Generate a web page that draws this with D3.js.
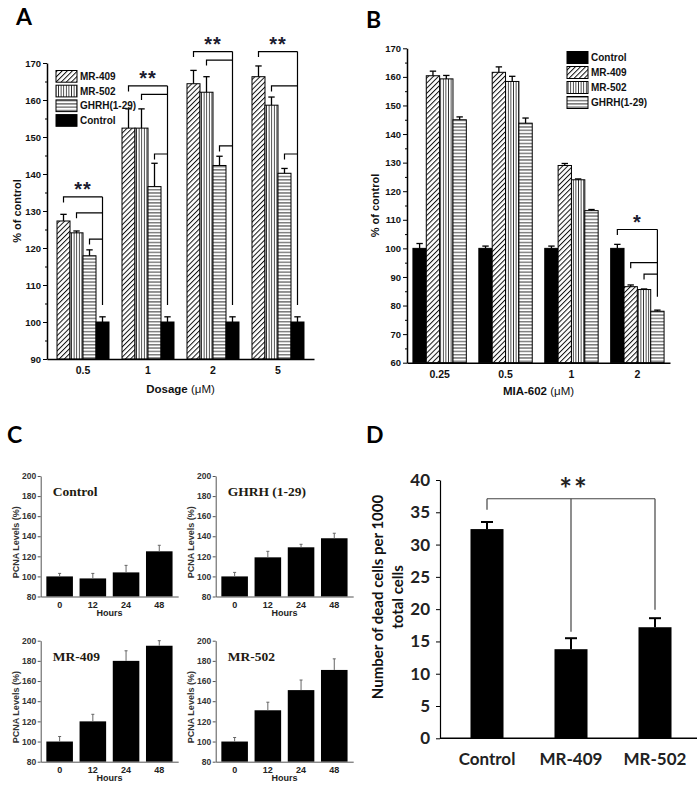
<!DOCTYPE html>
<html><head><meta charset="utf-8">
<script src="https://cdn.jsdelivr.net/npm/d3@7"></script>
<style>body{margin:0;background:#fff} svg{display:block}</style>
</head><body>
<svg id="fig" width="700" height="790"></svg>
<script>
// ---------- DATA ----------
// Panel A
const doseA = ["0.5", "1", "2", "5"];
const seriesA = ["MR-409", "MR-502", "GHRH(1-29)", "Control"];
const mr409A = [127.3, 152.4, 164.4, 166.3];
const mr409AErr = [1.8, 5.2, 3.6, 2.9];
const mr502A = [124.1, 152.4, 162.1, 158.6];
const mr502AErr = [0.5, 5.2, 4.2, 2.2];
const ghrhA = [117.9, 136.6, 142.3, 140.2];
const ghrhAErr = [1.6, 6.3, 2.5, 1.3];
const controlA = [100, 100, 100, 100];
const controlAErr = [1.4, 1.4, 1.4, 1.4];
const yTicksA = [90, 100, 110, 120, 130, 140, 150, 160, 170];
const bracketLevelsA = [[133.8, 129.5, 122.4], [163.8, 161.5, 145.4], [173.1, 170.8, 147.6], [173.1, 163.8, 145.4]];
const bracketFootA = 104.6;
const starsA = "**";

// Panel B
const doseB = ["0.25", "0.5", "1", "2"];
const seriesB = ["Control", "MR-409", "MR-502", "GHRH(1-29)"];
const controlB = [100, 100, 100, 100];
const controlBErr = [1.7, 0.8, 0.8, 1.4];
const mr409B = [160.4, 161.6, 129.0, 86.6];
const mr409BErr = [1.6, 1.9, 0.7, 0.6];
const mr502B = [159.3, 158.4, 124.0, 85.6];
const mr502BErr = [1.2, 1.8, 0.3, 0.2];
const ghrhB = [145.0, 143.8, 113.2, 78.0];
const ghrhBErr = [1.0, 1.8, 0.4, 0.4];
const yTicksB = [60, 70, 80, 90, 100, 110, 120, 130, 140, 150, 160, 170];
const bracketLevelsB = [106.6, 95.0, 91.0];
const bracketFootB = 83.1;
const starsB = "*";

// Panel C
const hoursC = ["0", "12", "24", "48"];
const yTicksC = [80, 100, 120, 140, 160, 180, 200];
const titlesC = ["Control", "GHRH (1-29)", "MR-409", "MR-502"];
const pcnaControl = [100, 98, 104, 125];
const pcnaControlErr = [3, 5, 7, 6];
const pcnaGhrh = [100, 119, 129, 138];
const pcnaGhrhErr = [4, 6, 3, 5];
const pcnaMr409 = [100, 120, 180, 195];
const pcnaMr409Err = [5, 7, 10, 5];
const pcnaMr502 = [100, 131, 151, 171];
const pcnaMr502Err = [4, 8, 10, 11];

// Panel D
const groupsD = ["Control", "MR-409", "MR-502"];
const deadCells = [32.4, 13.8, 17.2];
const deadCellsErr = [1.1, 1.7, 1.4];
const yTicksD = [0, 5, 10, 15, 20, 25, 30, 35, 40];
const bracketLevelD = 37.1;
const bracketDropD = [35.4, 16.5, 19.9];
const starsD = "**";

// ---------- DRAW ----------
const svg = d3.select("#fig");
const defs = svg.append("defs");
const ARIALN = "'Liberation Sans Narrow','Arial Narrow','Liberation Sans',Arial,sans-serif";
const ARIAL = "'Liberation Sans',Arial,sans-serif";
const CAL = "Lato,'Open Sans',sans-serif";
const TIMES = "'Liberation Serif','Times New Roman',serif";

// patterns
const pDiag = defs.append("pattern").attr("id", "diag").attr("patternUnits", "userSpaceOnUse")
  .attr("width", 3.6).attr("height", 3.6).attr("patternTransform", "rotate(45)");
pDiag.append("rect").attr("width", 3.6).attr("height", 3.6).attr("fill", "#fff");
pDiag.append("line").attr("x1", 0.5).attr("y1", 0).attr("x2", 0.5).attr("y2", 3.6).attr("stroke", "#111").attr("stroke-width", 1);
const pVert = defs.append("pattern").attr("id", "vert").attr("patternUnits", "userSpaceOnUse").attr("width", 2.6).attr("height", 4);
pVert.append("rect").attr("width", 2.6).attr("height", 4).attr("fill", "#fff");
pVert.append("line").attr("x1", 1.3).attr("y1", 0).attr("x2", 1.3).attr("y2", 4).attr("stroke", "#333").attr("stroke-width", 0.9);
const pHor = defs.append("pattern").attr("id", "hor").attr("patternUnits", "userSpaceOnUse").attr("width", 4).attr("height", 3.3);
pHor.append("rect").attr("width", 4).attr("height", 3.3).attr("fill", "#fff");
pHor.append("line").attr("x1", 0).attr("y1", 1.6).attr("x2", 4).attr("y2", 1.6).attr("stroke", "#222").attr("stroke-width", 0.9);

const fills = {"MR-409": "url(#diag)", "MR-502": "url(#vert)", "GHRH(1-29)": "url(#hor)", "Control": "#000"};

function panelLetter(t, x, y) {
  svg.append("text").attr("x", x).attr("y", y).text(t)
    .attr("font-family", CAL).attr("font-weight", 700).attr("font-size", 23).attr("fill", "#000");
}

function groupedPanel(cfg) {
  const g = svg.append("g");
  const x0 = d3.scaleBand().domain(cfg.groups).range([cfg.left, cfg.right]).paddingInner(cfg.pi).paddingOuter(cfg.po);
  const x1 = d3.scaleBand().domain(cfg.series.map(s => s.name)).range([0, x0.bandwidth()]);
  const y = d3.scaleLinear().domain(cfg.yDomain).range([cfg.bottom, cfg.top]);
  cfg.series.forEach(s => {
    const sg = g.append("g");
    sg.selectAll("rect").data(s.vals).join("rect")
      .attr("x", (d, i) => x0(cfg.groups[i]) + x1(s.name))
      .attr("y", d => y(d))
      .attr("width", x1.bandwidth())
      .attr("height", d => y(cfg.yDomain[0]) - y(d))
      .attr("fill", fills[s.name]).attr("stroke", "#000").attr("stroke-width", 1);
    s.vals.forEach((v, i) => {
      const cx = x0(cfg.groups[i]) + x1(s.name) + x1.bandwidth() / 2;
      g.append("line").attr("x1", cx).attr("x2", cx).attr("y1", y(v)).attr("y2", y(v + s.errs[i]))
        .attr("stroke", "#000").attr("stroke-width", 1.3);
      g.append("line").attr("x1", cx - 3.2).attr("x2", cx + 3.2).attr("y1", y(v + s.errs[i])).attr("y2", y(v + s.errs[i]))
        .attr("stroke", "#000").attr("stroke-width", 1.3);
    });
  });
  const ya = g.append("g").attr("transform", `translate(${cfg.left},0)`)
    .call(d3.axisLeft(y).tickValues(cfg.yTicks).tickSize(4).tickSizeOuter(0).tickPadding(2).tickFormat(d3.format("d")));
  const minor = [];
  for (let i = 0; i < cfg.yTicks.length - 1; i++) minor.push((cfg.yTicks[i] + cfg.yTicks[i + 1]) / 2);
  g.append("g").attr("transform", `translate(${cfg.left},0)`)
    .call(d3.axisLeft(y).tickValues(minor).tickSize(2).tickFormat("")).call(a => a.select(".domain").remove());
  ya.selectAll("text").attr("font-family", ARIALN).attr("font-weight", 700).attr("font-size", 9.5).attr("fill", "#111");
  ya.select(".domain").attr("stroke-width", 1.5);
  const xa = g.append("g").attr("transform", `translate(0,${cfg.bottom})`)
    .call(d3.axisBottom(x0).tickSize(0).tickSizeOuter(0).tickPadding(8));
  xa.select(".domain").attr("stroke-width", 1.5);
  xa.selectAll("text").attr("font-family", ARIAL).attr("font-weight", 700).attr("font-size", 10.5).attr("fill", "#111");
  g.selectAll(".tick line").attr("stroke", "#000");
  g.append("text").attr("transform", `translate(${cfg.yLabelX},${(cfg.top + cfg.bottom) / 2}) rotate(-90)`)
    .attr("text-anchor", "middle").attr("dy", "0.35em").text("% of control")
    .attr("font-family", ARIAL).attr("font-weight", 700).attr("font-size", 11).attr("fill", "#111");
  const xl = g.append("text").attr("x", (cfg.left + cfg.right) / 2).attr("y", cfg.xLabelY).attr("text-anchor", "middle")
    .attr("font-family", ARIALN).attr("font-weight", 700).attr("font-size", 11.5).attr("fill", "#111");
  xl.append("tspan").text(cfg.xLabel + " ");
  xl.append("tspan").attr("font-weight", 400).text("(\u03BCM)");
  const lg = g.append("g");
  cfg.series.forEach((s, i) => {
    const ly = cfg.legendY + i * cfg.legendStep;
    lg.append("rect").attr("x", cfg.legendX).attr("y", ly).attr("width", 21).attr("height", cfg.legendStep - 3)
      .attr("fill", fills[s.name]).attr("stroke", "#000").attr("stroke-width", 1);
    lg.append("text").attr("x", cfg.legendX + 24).attr("y", ly + cfg.legendStep / 2 + 2).text(s.name)
      .attr("font-family", ARIALN).attr("font-weight", 700).attr("font-size", 10).attr("fill", "#111");
  });
  return {x0, x1, y, g};
}

function bracket(g, pts, rightX, levels, foot, y, stars, starSize) {
  levels.forEach((L, i) => {
    g.append("path").attr("d", `M${pts[i]},${y(L) + 5.5}V${y(L)}H${rightX}`)
      .attr("fill", "none").attr("stroke", "#000").attr("stroke-width", 1.2);
  });
  g.append("line").attr("x1", rightX).attr("x2", rightX).attr("y1", y(levels[0])).attr("y2", y(foot))
    .attr("stroke", "#000").attr("stroke-width", 1.2);
  g.append("text").attr("x", (pts[0] + rightX) / 2).attr("y", y(levels[0]) - 12 + starSize * 0.55)
    .attr("text-anchor", "middle").text(stars).attr("letter-spacing", 1)
    .attr("font-family", ARIAL).attr("font-weight", 700).attr("font-size", starSize).attr("fill", "#1b1b2e");
}

// ---- Panel A ----
panelLetter("A", 16, 25);
const A = groupedPanel({
  groups: doseA, left: 47, right: 314, top: 63, bottom: 359, pi: 0.2, po: 0.154,
  yDomain: [90, 170], yTicks: yTicksA, yLabelX: 17, xLabelY: 393, xLabel: "Dosage",
  legendX: 56, legendY: 70.5, legendStep: 14.7,
  series: [
    {name: seriesA[0], vals: mr409A, errs: mr409AErr},
    {name: seriesA[1], vals: mr502A, errs: mr502AErr},
    {name: seriesA[2], vals: ghrhA, errs: ghrhAErr},
    {name: seriesA[3], vals: controlA, errs: controlAErr}
  ]
});
doseA.forEach((d, gi) => {
  const cx = s => A.x0(d) + A.x1(s) + A.x1.bandwidth() / 2;
  bracket(A.g, [cx(seriesA[0]), cx(seriesA[1]), cx(seriesA[2])], cx(seriesA[3]), bracketLevelsA[gi], bracketFootA, A.y, starsA, 20);
});

// ---- Panel B ----
panelLetter("B", 366, 28);
const B = groupedPanel({
  groups: doseB, left: 407, right: 670, top: 48.3, bottom: 362.7, pi: 0.19, po: 0.09,
  yDomain: [60, 170], yTicks: yTicksB, yLabelX: 375, xLabelY: 395, xLabel: "MIA-602",
  legendX: 567, legendY: 51.5, legendStep: 15,
  series: [
    {name: seriesB[0], vals: controlB, errs: controlBErr},
    {name: seriesB[1], vals: mr409B, errs: mr409BErr},
    {name: seriesB[2], vals: mr502B, errs: mr502BErr},
    {name: seriesB[3], vals: ghrhB, errs: ghrhBErr}
  ]
});
{
  const d = doseB[3];
  const cx = s => B.x0(d) + B.x1(s) + B.x1.bandwidth() / 2;
  bracket(B.g, [cx(seriesB[0]), cx(seriesB[1]), cx(seriesB[2])], cx(seriesB[3]), bracketLevelsB, bracketFootB, B.y, starsB, 20);
}

// ---- Panel C ----
panelLetter("C", 7, 443);
function pcnaPanel(left, top, bottom, title, vals, errs) {
  const g = svg.append("g");
  const right = left + 137.5;
  const x = d3.scaleBand().domain(hoursC).range([left, right]).paddingInner(0.2).paddingOuter(0.17);
  const y = d3.scaleLinear().domain([80, 200]).range([bottom, top]);
  g.selectAll("rect").data(vals).join("rect")
    .attr("x", (d, i) => x(hoursC[i])).attr("y", d => y(d))
    .attr("width", x.bandwidth()).attr("height", d => y(80) - y(d)).attr("fill", "#000");
  vals.forEach((v, i) => {
    const cx = x(hoursC[i]) + x.bandwidth() / 2;
    g.append("line").attr("x1", cx).attr("x2", cx).attr("y1", y(v)).attr("y2", y(v + errs[i])).attr("stroke", "#666").attr("stroke-width", 1);
    g.append("line").attr("x1", cx - 1.5).attr("x2", cx + 1.5).attr("y1", y(v + errs[i])).attr("y2", y(v + errs[i])).attr("stroke", "#666").attr("stroke-width", 1);
  });
  const ya = g.append("g").attr("transform", `translate(${left},0)`)
    .call(d3.axisLeft(y).tickValues(yTicksC).tickSize(3).tickSizeOuter(0).tickPadding(1.5));
  ya.selectAll("text").attr("font-family", ARIAL).attr("font-weight", 700).attr("font-size", 8.5).attr("fill", "#333");
  ya.select(".domain").attr("stroke", "#555");
  ya.selectAll(".tick line").attr("stroke", "#555");
  const xa = g.append("g").attr("transform", `translate(0,${bottom})`)
    .call(d3.axisBottom(x).tickSize(0).tickSizeOuter(0).tickPadding(5));
  xa.select(".domain").attr("stroke", "#555");
  xa.selectAll("text").attr("font-family", ARIAL).attr("font-weight", 700).attr("font-size", 9).attr("fill", "#222");
  g.append("text").attr("x", (left + right) / 2).attr("y", bottom + 19).attr("text-anchor", "middle").text("Hours")
    .attr("font-family", ARIAL).attr("font-weight", 700).attr("font-size", 9).attr("fill", "#222");
  g.append("text").attr("transform", `translate(${left - 25},${(top + bottom) / 2 + 6}) rotate(-90)`)
    .attr("text-anchor", "middle").attr("dy", "0.35em").text("PCNA Levels (%)")
    .attr("font-family", ARIAL).attr("font-weight", 700).attr("font-size", 9).attr("fill", "#333");
  g.append("text").attr("x", left + 12).attr("y", top + 20).text(title)
    .attr("font-family", TIMES).attr("font-weight", 700).attr("font-size", 13.5).attr("fill", "#221a10");
}
pcnaPanel(40.7, 476, 596.5, titlesC[0], pcnaControl, pcnaControlErr);
pcnaPanel(215.7, 476, 596.5, titlesC[1], pcnaGhrh, pcnaGhrhErr);
pcnaPanel(40.7, 640.7, 761.7, titlesC[2], pcnaMr409, pcnaMr409Err);
pcnaPanel(215.7, 640.7, 761.7, titlesC[3], pcnaMr502, pcnaMr502Err);

// ---- Panel D ----
panelLetter("D", 366, 443);
{
  const g = svg.append("g");
  const left = 440, right = 697, top = 480, bottom = 738.3;
  const x = d3.scaleBand().domain(groupsD).range([445, right]).paddingInner(0.607).paddingOuter(0.3035);
  const y = d3.scaleLinear().domain([0, 40]).range([bottom, top]);
  g.selectAll("rect").data(deadCells).join("rect")
    .attr("x", (d, i) => x(groupsD[i])).attr("y", d => y(d))
    .attr("width", x.bandwidth()).attr("height", d => y(0) - y(d)).attr("fill", "#000");
  deadCells.forEach((v, i) => {
    const cx = x(groupsD[i]) + x.bandwidth() / 2;
    g.append("line").attr("x1", cx).attr("x2", cx).attr("y1", y(v)).attr("y2", y(v + deadCellsErr[i])).attr("stroke", "#000").attr("stroke-width", 2);
    g.append("line").attr("x1", cx - 6).attr("x2", cx + 6).attr("y1", y(v + deadCellsErr[i])).attr("y2", y(v + deadCellsErr[i])).attr("stroke", "#000").attr("stroke-width", 2);
  });
  const ya = g.append("g").attr("transform", `translate(${left},0)`)
    .call(d3.axisLeft(y).tickValues(yTicksD).tickSize(4).tickSizeOuter(0).tickPadding(6));
  ya.selectAll("text").attr("font-family", CAL).attr("font-weight", 700).attr("font-size", 17).attr("fill", "#222");
  ya.select(".domain").attr("stroke-width", 1.2);
  const xa = g.append("g").attr("transform", `translate(0,${bottom})`);
  xa.append("line").attr("x1", left).attr("x2", right).attr("y1", 0).attr("y2", 0).attr("stroke", "#000").attr("stroke-width", 1.4);
  xa.selectAll("text").data(groupsD).join("text")
    .attr("x", d => x(d) + x.bandwidth() / 2).attr("y", 27).attr("text-anchor", "middle").text(d => d)
    .attr("font-family", CAL).attr("font-weight", 700).attr("font-size", 17).attr("fill", "#222");
  const cxs = groupsD.map(d => x(d) + x.bandwidth() / 2);
  g.append("line").attr("x1", cxs[0]).attr("x2", cxs[2]).attr("y1", y(bracketLevelD)).attr("y2", y(bracketLevelD)).attr("stroke", "#444").attr("stroke-width", 1.2);
  cxs.forEach((cx, i) => {
    g.append("line").attr("x1", cx).attr("x2", cx).attr("y1", y(bracketLevelD)).attr("y2", y(bracketDropD[i])).attr("stroke", "#444").attr("stroke-width", 1.2);
  });
  g.append("text").attr("x", (cxs[0] + cxs[2]) / 2 + 3).attr("y", 500).attr("text-anchor", "middle").text(starsD)
    .attr("letter-spacing", 2).attr("font-family", CAL).attr("font-weight", 700).attr("font-size", 30).attr("fill", "#222");
  g.append("text").attr("transform", `translate(378,597) rotate(-90)`).attr("text-anchor", "middle").attr("dy", "0.35em")
    .text("Number of dead cells per 1000").attr("font-family", CAL).attr("font-weight", 700).attr("font-size", 15).attr("fill", "#111");
  g.append("text").attr("transform", `translate(398,597) rotate(-90)`).attr("text-anchor", "middle").attr("dy", "0.35em")
    .text("total cells").attr("font-family", CAL).attr("font-weight", 700).attr("font-size", 15).attr("fill", "#111");
}
</script>
</body></html>
